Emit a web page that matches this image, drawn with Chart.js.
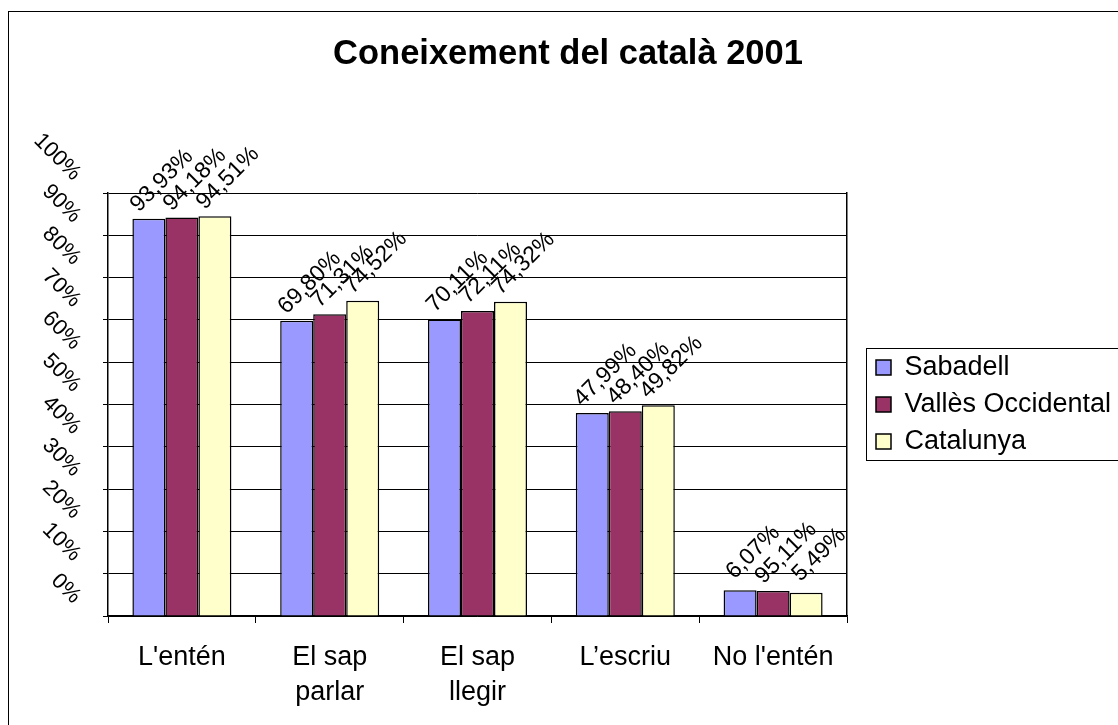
<!DOCTYPE html>
<html><head><meta charset="utf-8">
<script src="https://cdn.jsdelivr.net/npm/chart.js@4/dist/chart.umd.min.js"></script>
<style>html,body{margin:0;padding:0;background:#fff;overflow:hidden}#wrap{width:1118px;height:725px;position:relative}</style>
</head><body><div id="wrap"><canvas id="c" width="1118" height="725"></canvas></div>
<script>
const categories = [["L'entén"], ["El sap", "parlar"], ["El sap", "llegir"], ["L’escriu"], ["No l'entén"]];
const seriesNames = ["Sabadell", "Vallès Occidental", "Catalunya"];
const sabadell = [93.93, 69.80, 70.11, 47.99, 6.07];
const valles = [94.18, 71.31, 72.11, 48.40, 5.9];
const catalunya = [94.51, 74.52, 74.32, 49.82, 5.49];
const sabadellLabels = ["93,93%", "69,80%", "70,11%", "47,99%", "6,07%"];
const vallesLabels = ["94,18%", "71,31%", "72,11%", "48,40%", "95,11%"];
const catalunyaLabels = ["94,51%", "74,52%", "74,32%", "49,82%", "5,49%"];
const yTickValues = [0, 10, 20, 30, 40, 50, 60, 70, 80, 90, 100];
const titleText = "Coneixement del català 2001";

Chart.defaults.font.family = "'Liberation Sans', Arial, sans-serif";
Chart.defaults.color = '#000';

const framePlugin = {
  id: 'frame',
  beforeDraw(chart) {
    const ctx = chart.ctx;
    ctx.save();
    ctx.fillStyle = '#fff';
    ctx.fillRect(0, 0, chart.width, chart.height);
    ctx.strokeStyle = '#000';
    ctx.lineWidth = 1;
    ctx.strokeRect(8.5, 11.5, chart.width + 50, chart.height + 50);
    ctx.restore();
  }
};

const valueLabelPlugin = {
  id: 'valueLabels',
  afterDatasetsDraw(chart) {
    const ctx = chart.ctx;
    chart.data.datasets.forEach((ds, i) => {
      const meta = chart.getDatasetMeta(i);
      meta.data.forEach((bar, j) => {
        ctx.save();
        ctx.translate(bar.x + 13, bar.y - 38);
        ctx.rotate(-Math.PI / 4);
        ctx.font = "23px 'Liberation Sans', Arial, sans-serif";
        ctx.fillStyle = '#000';
        ctx.textAlign = 'center';
        ctx.textBaseline = 'middle';
        ctx.fillText(ds.valueLabels[j], 0, 0);
        ctx.restore();
      });
    });
  }
};

const legendBoxPlugin = {
  id: 'legendBox',
  afterDraw(chart) {
    const lg = chart.legend;
    if (!lg || !lg.legendHitBoxes || !lg.legendHitBoxes.length) return;
    const hb = lg.legendHitBoxes;
    const top = hb[0].top - 6;
    const last = hb[hb.length - 1];
    const bottom = last.top + last.height + 5;
    const ctx = chart.ctx;
    ctx.save();
    ctx.strokeStyle = '#000';
    ctx.lineWidth = 1;
    ctx.strokeRect(Math.round(lg.left) + 0.5, Math.round(top) + 0.5, 400, Math.round(bottom - top));
    ctx.restore();
  }
};

new Chart(document.getElementById('c'), {
  type: 'bar',
  data: {
    labels: categories,
    datasets: [
      { label: seriesNames[0], data: sabadell, valueLabels: sabadellLabels, backgroundColor: '#9999FF', borderColor: '#000', borderWidth: 1.5 },
      { label: seriesNames[1], data: valles, valueLabels: vallesLabels, backgroundColor: '#993366', borderColor: '#000', borderWidth: 1.5 },
      { label: seriesNames[2], data: catalunya, valueLabels: catalunyaLabels, backgroundColor: '#FFFFCC', borderColor: '#000', borderWidth: 1.5 }
    ]
  },
  options: {
    responsive: false,
    animation: false,
    devicePixelRatio: 1,
    layout: { padding: { left: 18, right: 0, top: 0, bottom: 0 } },
    datasets: { bar: { categoryPercentage: 0.67, barPercentage: 1 } },
    plugins: {
      title: {
        display: true, text: titleText, color: '#000',
        font: { size: 34.5, weight: 'bold', lineHeight: 1.2 },
        padding: { top: 34, bottom: 117.6 }
      },
      legend: {
        position: 'right', fullSize: false, align: 'center', maxWidth: 252,
        labels: { boxWidth: 15, boxHeight: 15, padding: 10, color: '#000', font: { size: 27 } }
      },
      tooltip: { enabled: false }
    },
    scales: {
      x: {
        grid: { offset: true, drawOnChartArea: false, tickLength: 7, color: '#000', tickColor: '#000' },
        border: { color: '#000', width: 1.5 },
        ticks: { color: '#000', font: { size: 27, lineHeight: 1.3 }, padding: 17, maxRotation: 0, minRotation: 0, autoSkip: false },
        afterFit: s => { s.height = 109; }
      },
      y: {
        min: 0, max: 100,
        afterBuildTicks: s => { s.ticks = yTickValues.map(v => ({ value: v })); },
        ticks: { callback: v => v + '%', minRotation: -45, maxRotation: -45, labelOffset: -16, padding: 26, color: '#000', font: { size: 22 } },
        grid: { color: '#000', tickLength: 5, tickColor: '#000' },
        border: { color: '#000', width: 1.5 },
        afterFit: s => { s.width = 90; }
      },
      y2: {
        position: 'right', min: 0, max: 100,
        ticks: { display: false },
        grid: { drawOnChartArea: false, tickLength: 19, tickColor: 'rgba(0,0,0,0)' },
        border: { color: '#000', width: 1.5 },
        afterFit: s => { s.width = 19; }
      }
    }
  },
  plugins: [framePlugin, valueLabelPlugin, legendBoxPlugin]
});
</script>
</body></html>
